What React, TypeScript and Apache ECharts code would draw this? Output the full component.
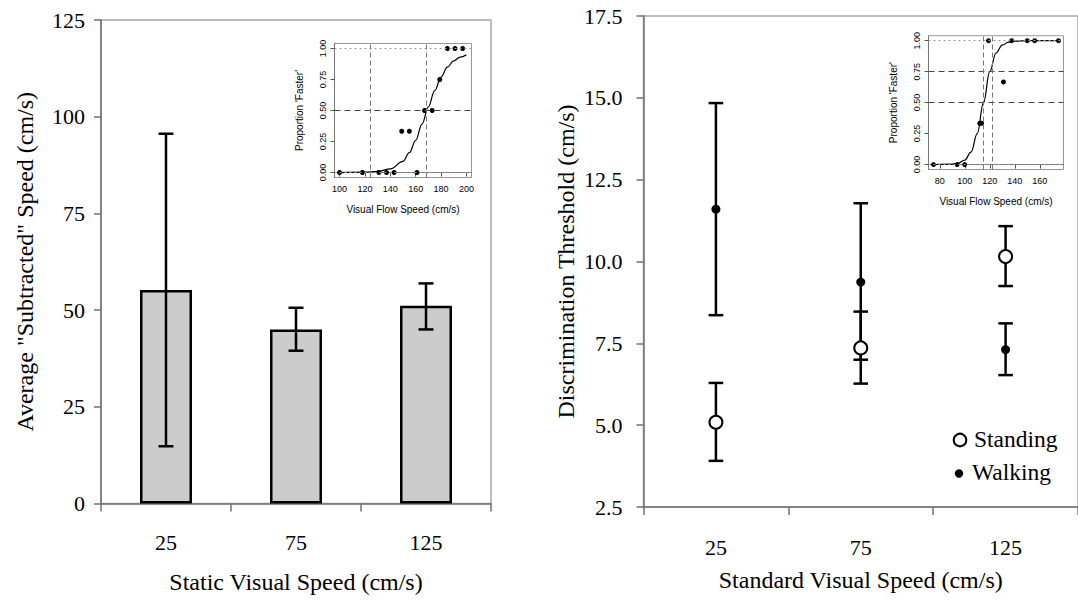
import React, { useEffect, useRef } from "react";
import * as echarts from "echarts";

// ---------- Left main panel: bar chart ----------
const leftCategories = ["25", "75", "125"];
const barMeans = [55.2, 45.0, 51.1];
const barErrLow = [14.8, 39.5, 45.0];
const barErrHigh = [95.6, 50.6, 56.9];

// ---------- Right main panel: thresholds ----------
const rightCategories = ["25", "75", "125"];
const standingMean = [5.09, 7.36, 10.15];
const standingLow = [3.91, 6.27, 9.25];
const standingHigh = [6.29, 8.47, 11.08];
const walkingMean = [11.6, 9.37, 7.31];
const walkingLow = [8.36, 7.0, 6.53];
const walkingHigh = [14.84, 11.78, 8.11];
const legendNames = ["Standing", "Walking"];

// ---------- Left inset (psychometric) ----------
const insetAX = [100, 118, 131, 137, 143, 149, 155, 161, 167, 173, 179, 185, 191, 197];
const insetAY = [0, 0, 0, 0, 0, 0.333, 0.333, 0, 0.5, 0.5, 0.75, 1, 1, 1];
const insetACurveX = [100, 120, 130, 140, 150, 155, 160, 165, 170, 175, 180, 185, 190, 195, 200];
const insetACurveY = [0, 0.003, 0.01, 0.03, 0.09, 0.16, 0.26, 0.39, 0.53, 0.66, 0.77, 0.85, 0.9, 0.93, 0.95];
const insetAVLines = [124.5, 168.6];
const insetAHLines = [0.5];
const insetATicks = [100, 120, 140, 160, 180, 200];

// ---------- Right inset (psychometric) ----------
const insetBX = [75, 94, 100, 112, 113.5, 119, 131, 137.5, 150, 156, 175];
const insetBY = [0, 0, 0, 0.333, 0.333, 1, 0.667, 1, 1, 1, 1];
const insetBCurveX = [75, 90, 95, 100, 105, 110, 115, 120, 125, 130, 135, 140, 150, 175];
const insetBCurveY = [0, 0.004, 0.012, 0.036, 0.1, 0.25, 0.5, 0.75, 0.9, 0.964, 0.988, 0.996, 1, 1];
const insetBVLines = [115, 121.6];
const insetBHLines = [0.5, 0.75];
const insetBTicks = [80, 100, 120, 140, 160];

const propTicks = [0, 0.25, 0.5, 0.75, 1];
const propBounds = [0, 1];

const SERIF = "Liberation Serif";
const SANS = "Liberation Sans";

const zip = (a: number[], b: number[]) => a.map((v, i) => [v, b[i]]);

function errorRender(capHalf: number, width: number) {
  return (params: any, api: any) => {
    const x = api.value(0);
    const lo = api.coord([x, api.value(1)]);
    const hi = api.coord([x, api.value(2)]);
    const style = { stroke: "#000", lineWidth: width };
    return {
      type: "group",
      children: [
        { type: "line", shape: { x1: lo[0], y1: lo[1], x2: hi[0], y2: hi[1] }, style },
        { type: "line", shape: { x1: lo[0] - capHalf, y1: lo[1], x2: lo[0] + capHalf, y2: lo[1] }, style },
        { type: "line", shape: { x1: hi[0] - capHalf, y1: hi[1], x2: hi[0] + capHalf, y2: hi[1] }, style },
      ],
    };
  };
}

function refLines(vx: number[], hy: number[]) {
  const data: any[] = [];
  propBounds.forEach((v) =>
    data.push({ yAxis: v, lineStyle: { type: [2, 3], color: "#999", width: 1 } })
  );
  hy.forEach((v) => data.push({ yAxis: v, lineStyle: { type: [6, 4], color: "#444", width: 1 } }));
  vx.forEach((v) => data.push({ xAxis: v, lineStyle: { type: [5, 3], color: "#777", width: 1 } }));
  return { symbol: "none", silent: true, label: { show: false }, animation: false, data };
}

function insetAxes(grid: number, min: number, max: number, ticks: number[]) {
  const x = {
    gridIndex: grid,
    type: "value",
    min,
    max,
    axisLine: { show: true, lineStyle: { color: "#777", width: 1 } },
    axisTick: { show: true, length: 4, customValues: ticks, lineStyle: { color: "#555" } },
    axisLabel: { customValues: ticks, fontSize: 9, fontFamily: SANS, color: "#000", margin: 7 },
    splitLine: { show: false },
    name: "Visual Flow Speed (cm/s)",
    nameLocation: "middle",
    nameGap: 27,
    nameTextStyle: { fontSize: 10, fontFamily: SANS, color: "#000" },
  };
  const y = {
    gridIndex: grid,
    type: "value",
    min: -0.04,
    max: 1.04,
    axisLine: { show: true, lineStyle: { color: "#777", width: 1 } },
    axisTick: { show: true, length: 4, customValues: propTicks, lineStyle: { color: "#555" } },
    axisLabel: {
      customValues: propTicks,
      rotate: 90,
      fontSize: 9,
      fontFamily: SANS,
      color: "#000",
      margin: 7,
      formatter: (v: number) => v.toFixed(2),
    },
    splitLine: { show: false },
    name: "Proportion 'Faster'",
    nameLocation: "middle",
    nameGap: 30,
    nameTextStyle: { fontSize: 10, fontFamily: SANS, color: "#000" },
  };
  return { x, y };
}

export default function App() {
  const ref = useRef<HTMLDivElement>(null);

  useEffect(() => {
    if (!ref.current) return;
    const chart = echarts.init(ref.current, undefined, { renderer: "svg" });

    const insetA = insetAxes(2, 96, 204, insetATicks);
    const insetB = insetAxes(3, 71, 179, insetBTicks);

    const mainAxisLine = { show: true, lineStyle: { color: "#707070", width: 1.5 } };
    const mainTick = { show: true, length: 8, lineStyle: { color: "#707070", width: 1.5 } };
    const mainLabel = { fontFamily: SERIF, fontSize: 22, color: "#000" };
    const mainName = { fontFamily: SERIF, fontSize: 24, color: "#000" };
    const legendTitleStyle = {
      fontFamily: SERIF,
      fontSize: 23.5,
      fontWeight: "normal",
      color: "#000",
    };

    const option: any = {
      animation: false,
      backgroundColor: "#fff",
      textStyle: { fontFamily: SERIF },
      title: [
        { text: legendNames[0], left: 974, top: 427, padding: 0, textStyle: legendTitleStyle },
        { text: legendNames[1], left: 972, top: 460, padding: 0, textStyle: legendTitleStyle },
      ],
      grid: [
        { left: 101, top: 20, width: 390, height: 483.5, show: true, borderColor: "#a8a8a8", borderWidth: 1.5 },
        { left: 643.5, top: 16, width: 440, height: 491, show: true, borderColor: "#a8a8a8", borderWidth: 1.5 },
        { left: 334.5, top: 43.5, width: 137, height: 134, show: true, backgroundColor: "#fff", borderColor: "#999", borderWidth: 1 },
        { left: 928.5, top: 35.7, width: 135, height: 133.8, show: true, backgroundColor: "#fff", borderColor: "#999", borderWidth: 1 },
      ],
      xAxis: [
        {
          gridIndex: 0,
          type: "category",
          data: leftCategories,
          boundaryGap: true,
          axisLine: mainAxisLine,
          axisTick: mainTick,
          axisLabel: { ...mainLabel, margin: 28 },
          name: "Static Visual Speed (cm/s)",
          nameLocation: "middle",
          nameGap: 66,
          nameTextStyle: mainName,
        },
        {
          gridIndex: 1,
          type: "category",
          data: rightCategories,
          boundaryGap: true,
          axisLine: mainAxisLine,
          axisTick: mainTick,
          axisLabel: { ...mainLabel, margin: 29 },
          name: "Standard Visual Speed (cm/s)",
          nameLocation: "middle",
          nameGap: 61,
          nameTextStyle: mainName,
        },
        insetA.x,
        insetB.x,
      ],
      yAxis: [
        {
          gridIndex: 0,
          type: "value",
          min: 0,
          max: 125,
          interval: 25,
          axisLine: mainAxisLine,
          axisTick: { ...mainTick, length: 7 },
          axisLabel: { ...mainLabel, margin: 16 },
          splitLine: { show: false },
          name: 'Average "Subtracted" Speed (cm/s)',
          nameLocation: "middle",
          nameGap: 64,
          nameTextStyle: mainName,
        },
        {
          gridIndex: 1,
          type: "value",
          min: 2.5,
          max: 17.5,
          interval: 2.5,
          axisLine: mainAxisLine,
          axisTick: { ...mainTick, length: 7 },
          axisLabel: { ...mainLabel, margin: 21, formatter: (v: number) => v.toFixed(1) },
          splitLine: { show: false },
          name: "Discrimination Threshold (cm/s)",
          nameLocation: "middle",
          nameGap: 66,
          nameTextStyle: mainName,
        },
        insetA.y,
        insetB.y,
      ],
      graphic: [
        {
          type: "circle",
          x: 960,
          y: 440,
          shape: { cx: 0, cy: 0, r: 6.3 },
          style: { fill: "#fff", stroke: "#000", lineWidth: 2 },
        },
        { type: "circle", x: 959, y: 473.5, shape: { cx: 0, cy: 0, r: 4.2 }, style: { fill: "#000" } },
      ],
      series: [
        {
          type: "bar",
          xAxisIndex: 0,
          yAxisIndex: 0,
          data: barMeans,
          barWidth: 52,
          itemStyle: { color: "#cccccc", borderColor: "#000", borderWidth: 2.5 },
        },
        {
          type: "custom",
          xAxisIndex: 0,
          yAxisIndex: 0,
          data: barMeans.map((_, i) => [i, barErrLow[i], barErrHigh[i]]),
          encode: { x: 0, y: [1, 2] },
          renderItem: errorRender(7.5, 2.5),
          z: 5,
        },
        {
          type: "custom",
          xAxisIndex: 1,
          yAxisIndex: 1,
          data: standingMean.map((_, i) => [i, standingLow[i], standingHigh[i]]),
          encode: { x: 0, y: [1, 2] },
          renderItem: errorRender(7.3, 2.5),
          z: 2,
        },
        {
          type: "custom",
          xAxisIndex: 1,
          yAxisIndex: 1,
          data: walkingMean.map((_, i) => [i, walkingLow[i], walkingHigh[i]]),
          encode: { x: 0, y: [1, 2] },
          renderItem: errorRender(7.3, 2.5),
          z: 2,
        },
        {
          name: legendNames[0],
          type: "scatter",
          xAxisIndex: 1,
          yAxisIndex: 1,
          data: standingMean.map((v, i) => [i, v]),
          symbol: "circle",
          symbolSize: 13,
          itemStyle: { color: "#fff", borderColor: "#000", borderWidth: 2, opacity: 1 },
          z: 4,
        },
        {
          name: legendNames[1],
          type: "scatter",
          xAxisIndex: 1,
          yAxisIndex: 1,
          data: walkingMean.map((v, i) => [i, v]),
          symbol: "circle",
          symbolSize: 9,
          itemStyle: { color: "#000", opacity: 1 },
          z: 4,
        },
        // left inset
        {
          type: "line",
          xAxisIndex: 2,
          yAxisIndex: 2,
          data: zip(insetACurveX, insetACurveY),
          smooth: 0.4,
          smoothMonotone: "x",
          showSymbol: false,
          lineStyle: { color: "#000", width: 1.2 },
          markLine: refLines(insetAVLines, insetAHLines),
          z: 3,
        },
        {
          type: "scatter",
          xAxisIndex: 2,
          yAxisIndex: 2,
          data: zip(insetAX, insetAY),
          symbolSize: 5,
          itemStyle: { color: "#000", opacity: 1 },
          z: 4,
        },
        // right inset
        {
          type: "line",
          xAxisIndex: 3,
          yAxisIndex: 3,
          data: zip(insetBCurveX, insetBCurveY),
          smooth: 0.4,
          smoothMonotone: "x",
          showSymbol: false,
          lineStyle: { color: "#000", width: 1.2 },
          markLine: refLines(insetBVLines, insetBHLines),
          z: 3,
        },
        {
          type: "scatter",
          xAxisIndex: 3,
          yAxisIndex: 3,
          data: zip(insetBX, insetBY),
          symbolSize: 5,
          itemStyle: { color: "#000", opacity: 1 },
          z: 4,
        },
      ],
    };

    chart.setOption(option);
    return () => chart.dispose();
  }, []);

  return (
    <div
      ref={ref}
      style={{ position: "absolute", left: 0, top: 0, width: 1078, height: 603, background: "#fff" }}
    />
  );
}
